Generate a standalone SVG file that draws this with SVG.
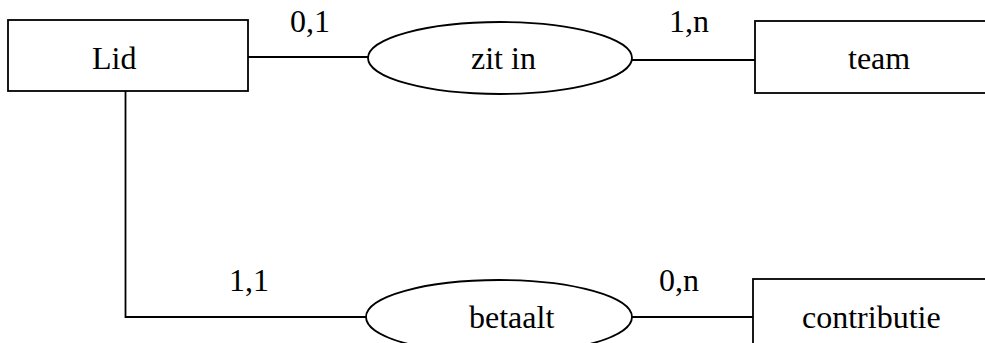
<svg xmlns="http://www.w3.org/2000/svg" width="985" height="343" viewBox="0 0 985 343">
<style>
.box{fill:#fff;stroke:#000;stroke-width:1.8}
.ln{fill:none;stroke:#000;stroke-width:1.8}
text{font-family:"Liberation Serif","Times New Roman",serif;font-size:32px;fill:#000}
</style>
<rect width="985" height="343" fill="#fff"/>
<g id="connectors">
<line class="ln" x1="248" y1="57" x2="368" y2="57"/>
<line class="ln" x1="632" y1="60" x2="755" y2="60"/>
<polyline class="ln" points="125.5,91 125.5,317 366,317"/>
<line class="ln" x1="632" y1="317" x2="753" y2="317"/>
<text x="290" y="32">0,1</text>
<text x="669" y="32">1,n</text>
<text x="229" y="291">1,1</text>
<text x="659" y="291">0,n</text>
</g>
<g id="lid">
<rect class="box" x="8" y="20" width="240" height="71"/>
<text x="92" y="69">Lid</text>
</g>
<g id="zit-in">
<ellipse class="box" cx="500" cy="58" rx="132" ry="36"/>
<text x="471" y="69">zit in</text>
</g>
<g id="team">
<rect class="box" x="755" y="21" width="240" height="72"/>
<text x="848" y="69">team</text>
</g>
<g id="betaalt">
<ellipse class="box" cx="499" cy="317" rx="133" ry="37"/>
<text x="469" y="328">betaalt</text>
</g>
<g id="contributie">
<rect class="box" x="753" y="279" width="240" height="72"/>
<text x="802" y="328">contributie</text>
</g>
</svg>
